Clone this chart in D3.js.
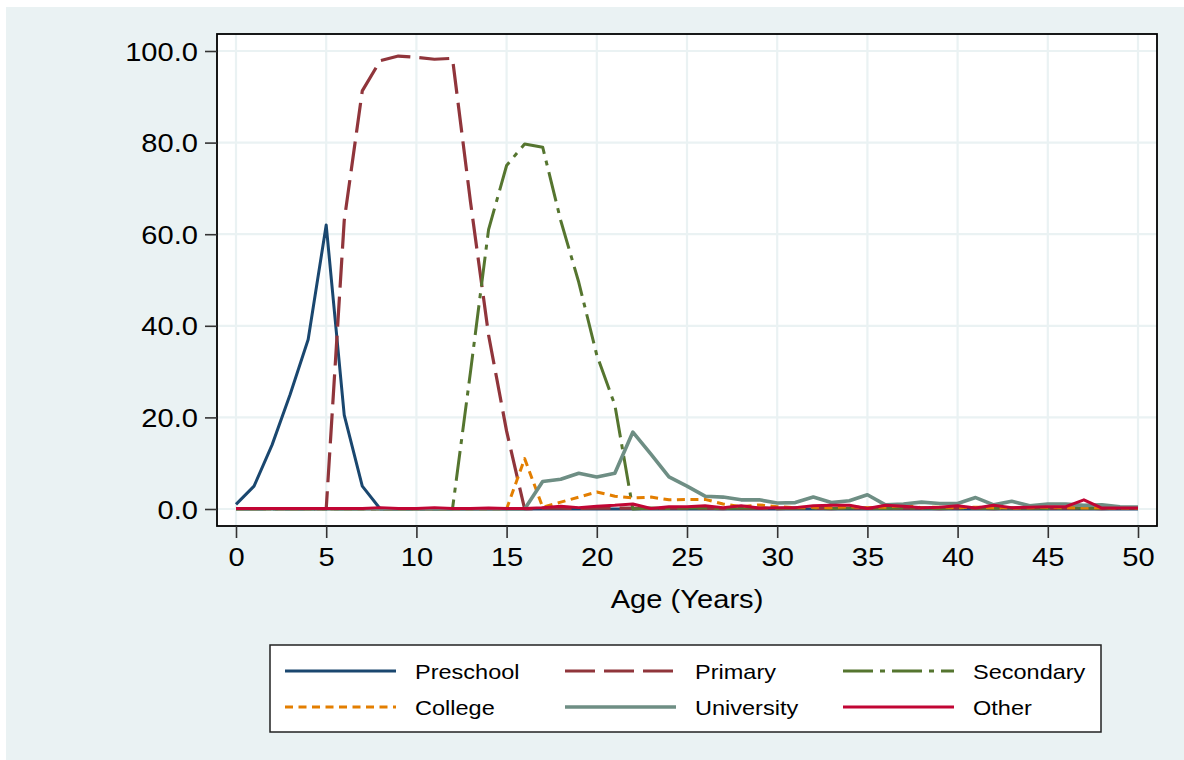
<!DOCTYPE html>
<html><head><meta charset="utf-8">
<script src="https://cdn.jsdelivr.net/npm/d3@7"></script>
<style>html,body{margin:0;padding:0;background:#fff;}svg{display:block;}</style>
</head><body>
<svg id="chart" width="1184" height="760"></svg>
<script>
const ages = d3.range(0, 51);
const preschool = [1,5,14,25,37,62,20.5,5,0,0, 0,0,0,0,0,0,0,0,0,0, 0,0,0,0,0,0,0,0,0,0, 0,0,0,0,0,0,0,0,0,0, 0,0,0,0,0,0,0,0,0,0, 0];
const primary = [0,0,0,0,0,0,63,91.3,97.9,98.9, 98.6,98.2,98.4,67,38,17,0,0.2,0.2,0.1, 0.2,0.2,0.2,0.1,0.2,0.2,0.2,0.1,0.2,0.2, 0.1,0.2,0.2,0.1,0.2,0.2,0.1,0.2,0.2,0.1, 0.2,0.2,0.1,0.2,0.2,0.1,0.2,0.2,0.1,0.2, 0.2];
const secondary = [0,0,0,0,0,0,0,0,0,0, 0,0,0,30,61,75,79.7,79,63,49.5, 33.6,22.7,0,0.2,0.1,0.2,0.2,0.1,0.2,0.2, 0.1,0.2,0.2,0.1,0.2,0.2,0.1,0.2,0.2,0.1, 0.2,0.2,0.1,0.2,0.2,0.1,0.2,0.2,0.1,0.2, 0.2];
const college = [0,0,0,0,0,0,0,0,0,0, 0,0,0,0,0,0,11,0.4,1.5,2.6, 3.7,2.8,2.4,2.6,2.0,2.1,2.1,1.1,0.5,0.9, 0.5,0.3,0.4,0.3,0.5,0.3,0.4,0.8,0.3,0.4, 0.3,0.4,0.3,0.2,0.3,0.4,0.3,0.2,0.3,0.2, 0.2];
const university = [0,0,0,0,0,0,0,0,0,0, 0,0,0,0,0,0,0,6,6.5,7.8, 7,7.8,16.8,12,7,5,2.8,2.6,2,2, 1.3,1.4,2.6,1.4,1.8,3.1,0.9,1.1,1.5,1.2, 1.2,2.5,0.9,1.7,0.7,1.1,1.1,0.8,0.9,0.5, 0.4];
const other = [0.1,0.1,0.1,0.1,0.1,0.1,0.1,0.1,0.3,0.1, 0.1,0.3,0.1,0.1,0.2,0.1,0.1,0.3,0.6,0.3, 0.6,0.8,1.1,0.1,0.5,0.5,0.7,0.3,0.7,0.2, 0.3,0.3,0.7,0.8,0.8,0.1,0.8,0.6,0.3,0.4, 0.7,0.2,0.8,0.3,0.4,0.5,0.5,2.0,0.2,0.2, 0.2];
const seriesNames = ["Preschool","Primary","Secondary","College","University","Other"];
const seriesValues = [preschool, primary, secondary, college, university, other];
const xTicks = [0,5,10,15,20,25,30,35,40,45,50];
const yTicks = [0,20,40,60,80,100];
const xTitle = "Age (Years)";

const colors = ["#1a476f","#90353b","#55752f","#e37e00","#6e8e84","#c10534"];
const dashes = [null,"30,9","30,7,5,7","8,5.5",null,null];
const widths = [3,3.2,3,3,3.6,3];
const SX = 1.12;
const FONT = "'Liberation Sans', Arial, sans-serif";

const svg = d3.select("#chart");
svg.append("rect").attr("x",6).attr("y",7).attr("width",1178).attr("height",753).attr("fill","#eaf2f3");

const frame = {l:217, t:34, r:1157, b:526};
const x = d3.scaleLinear().domain([0,50]).range([236,1138]);
const y = d3.scaleLinear().domain([0,100]).range([509,51]);

svg.append("rect").attr("x",frame.l).attr("y",frame.t).attr("width",frame.r-frame.l).attr("height",frame.b-frame.t).attr("fill","#fff");

// grid
svg.append("g").selectAll("line").data(xTicks).join("line")
  .attr("x1",d=>x(d)).attr("x2",d=>x(d)).attr("y1",frame.t).attr("y2",frame.b)
  .attr("stroke","#eaf2f3").attr("stroke-width",2.2);
svg.append("g").selectAll("line").data(yTicks).join("line")
  .attr("x1",frame.l).attr("x2",frame.r).attr("y1",d=>y(d)).attr("y2",d=>y(d))
  .attr("stroke","#eaf2f3").attr("stroke-width",2.2);

// lines
const line = d3.line().x((d,i)=>x(ages[i])).y(d=>y(d));
const plot = svg.append("g");
seriesValues.forEach((vals,k)=>{
  plot.append("path").datum(vals).attr("d",line)
    .attr("fill","none").attr("stroke",colors[k]).attr("stroke-width",widths[k])
    .attr("stroke-dasharray",dashes[k]).attr("stroke-linejoin","round");
});

// frame
svg.append("rect").attr("x",frame.l).attr("y",frame.t).attr("width",frame.r-frame.l).attr("height",frame.b-frame.t)
  .attr("fill","none").attr("stroke","#000").attr("stroke-width",1.8);

// axes
const yAxis = d3.axisLeft(y).tickValues(yTicks).tickFormat(d3.format(".1f")).tickSize(12).tickPadding(7);
const gy = svg.append("g").attr("transform",`translate(${frame.l},0)`).call(yAxis);
const xAxis = d3.axisBottom(x).tickValues(xTicks).tickFormat(d3.format("d")).tickSize(12).tickPadding(10);
const gx = svg.append("g").attr("transform",`translate(0,${frame.b})`).call(xAxis);
[gy,gx].forEach(g=>{
  g.select(".domain").remove();
  g.selectAll(".tick line").attr("stroke","#333").attr("stroke-width",1.6);
  g.selectAll(".tick text").attr("fill","#000").style("font-family",FONT).style("font-size","26px");
});
gy.selectAll(".tick text").each(function(){
  const t = d3.select(this); const xx = +t.attr("x");
  t.attr("transform",`translate(${xx},0) scale(${SX},1)`).attr("x",0).attr("dy","0.35em");
});
gx.selectAll(".tick text").each(function(){
  const t = d3.select(this); const yy = +t.attr("y");
  t.attr("transform",`translate(0,${yy}) scale(${SX},1)`).attr("y",0).attr("dy","0.71em");
});

function stext(g, tx, ty, str, size, anchor){
  return g.append("text").attr("transform",`translate(${tx},${ty}) scale(${SX},1)`)
    .attr("text-anchor",anchor||"start").style("font-family",FONT).style("font-size",size+"px")
    .attr("fill","#000").text(str);
}
stext(svg, x(25), 608, xTitle, 26, "middle");

// legend
const lg = svg.append("g");
lg.append("rect").attr("x",270).attr("y",645).attr("width",831).attr("height",87)
  .attr("fill","#fff").attr("stroke","#222").attr("stroke-width",1.5);
const colX = [285,565,843];
const rowY = [671,707];
seriesNames.forEach((nm,k)=>{
  const cx = colX[k%3], cy = rowY[Math.floor(k/3)];
  lg.append("line").attr("x1",cx).attr("x2",cx+111).attr("y1",cy).attr("y2",cy)
    .attr("stroke",colors[k]).attr("stroke-width",widths[k]).attr("stroke-dasharray",dashes[k]);
  stext(lg, cx+130, cy+8, nm, 21, "start");
});
</script>
</body></html>
